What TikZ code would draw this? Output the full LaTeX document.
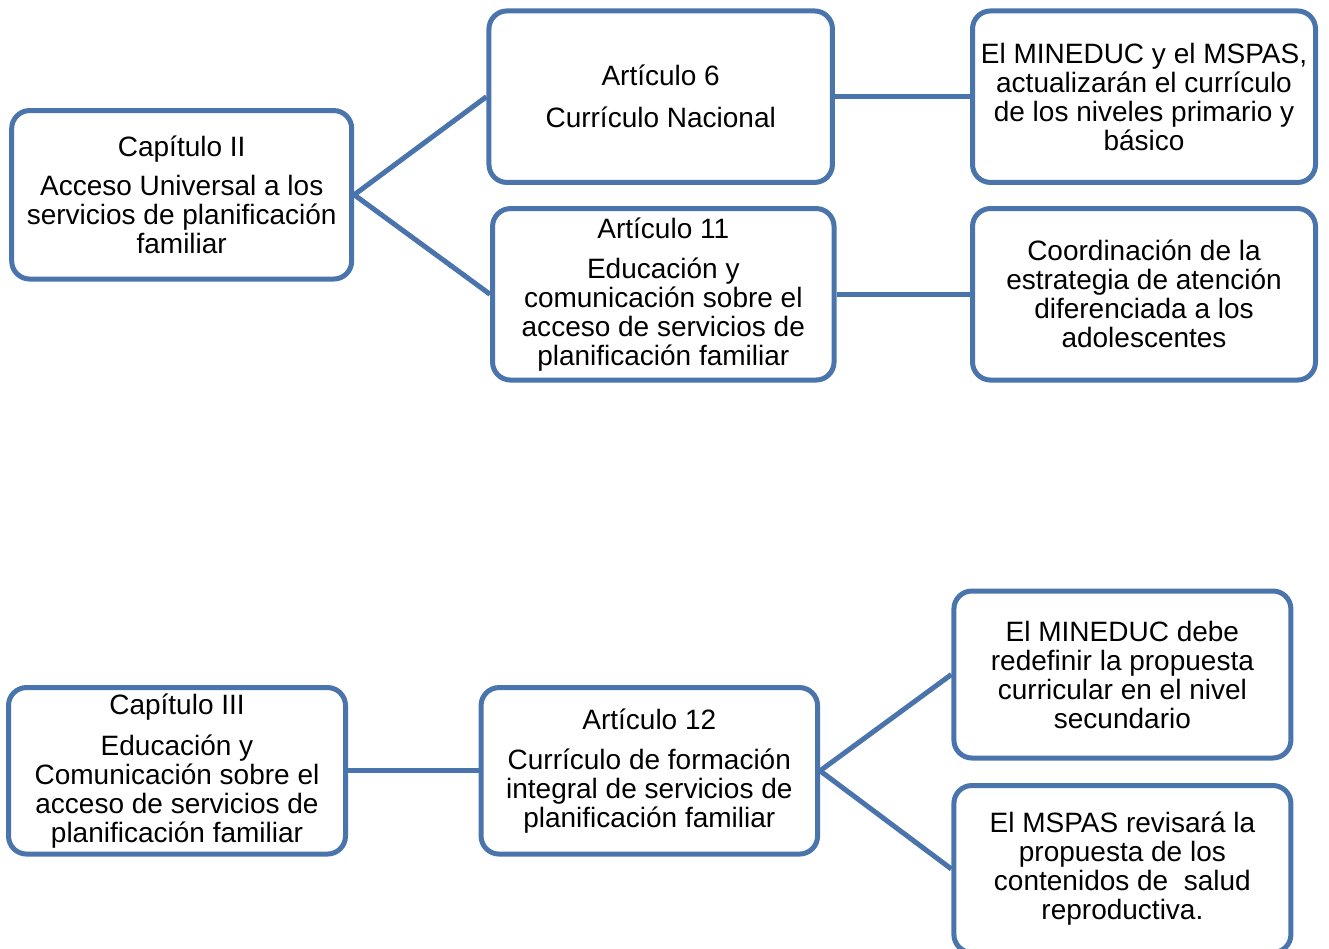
\documentclass[tikz,border=0pt]{standalone}
\usepackage{fontspec}
\setmainfont{Liberation Sans}
\definecolor{boxblue}{RGB}{74,117,172}
\tikzset{
  boxnode/.style={draw=boxblue, line width=5pt, fill=white, rounded corners=18pt,
    align=center, inner sep=0pt, font=\fontsize{28}{29}\selectfont},
  link/.style={draw=boxblue, line width=5pt}
}
\begin{document}
\begin{tikzpicture}[x=1pt,y=-1pt]
\useasboundingbox (0,0) rectangle (1329,949);
\clip (0,0) rectangle (1329,949);
\fill[white] (0,0) rectangle (1329,949);
% boxes
\node[boxnode, minimum width=340pt, minimum height=168.5pt] (c2) at (181.7,194.8)
  {Capítulo II\\[10pt]Acceso Universal a los\\servicios de planificación\\familiar};
\node[boxnode, minimum width=343.5pt, minimum height=171.5pt] (a6) at (660.7,96.7)
  {Artículo 6\\[13pt]Currículo Nacional};
\node[boxnode, minimum width=343pt, minimum height=171.5pt] (r1) at (1144,96.7)
  {El MINEDUC y el MSPAS,\\actualizarán el currículo\\de los niveles primario y\\básico};
\node[boxnode, minimum width=341.5pt, minimum height=171.5pt] (a11) at (663.3,294.3)
  {Artículo 11\\[11pt]Educación y\\comunicación sobre el\\acceso de servicios de\\planificación familiar};
\node[boxnode, minimum width=343pt, minimum height=171.5pt] (r2) at (1144,294.3)
  {Coordinación de la\\estrategia de atención\\diferenciada a los\\adolescentes};
\node[boxnode, minimum width=337pt, minimum height=166.5pt] (c3) at (177,770.8)
  {Capítulo III\\[12pt]Educación y\\Comunicación sobre el\\acceso de servicios de\\planificación familiar};
\node[boxnode, minimum width=336.5pt, minimum height=166.5pt] (a12) at (649.3,770.8)
  {Artículo 12\\[11pt]Currículo de formación\\integral de servicios de\\planificación familiar};
\node[boxnode, minimum width=337pt, minimum height=167pt] (r3) at (1122.4,674.5)
  {El MINEDUC debe\\redefinir la propuesta\\curricular en el nivel\\secundario};
\node[boxnode, minimum width=337pt, minimum height=167pt] (r4) at (1122.4,869)
  {El MSPAS revisará la\\propuesta de los\\contenidos de\ \ salud\\reproductiva.};
% connectors
\draw[link] (c2.east) -- (a6.west);
\draw[link] (c2.east) -- (a11.west);
\draw[link] (a6.east) -- (r1.west);
\draw[link] (a11.east) -- (r2.west);
\draw[link] (c3.east) -- (a12.west);
\draw[link] (a12.east) -- (r3.west);
\draw[link] (a12.east) -- (r4.west);
\end{tikzpicture}
\end{document}
